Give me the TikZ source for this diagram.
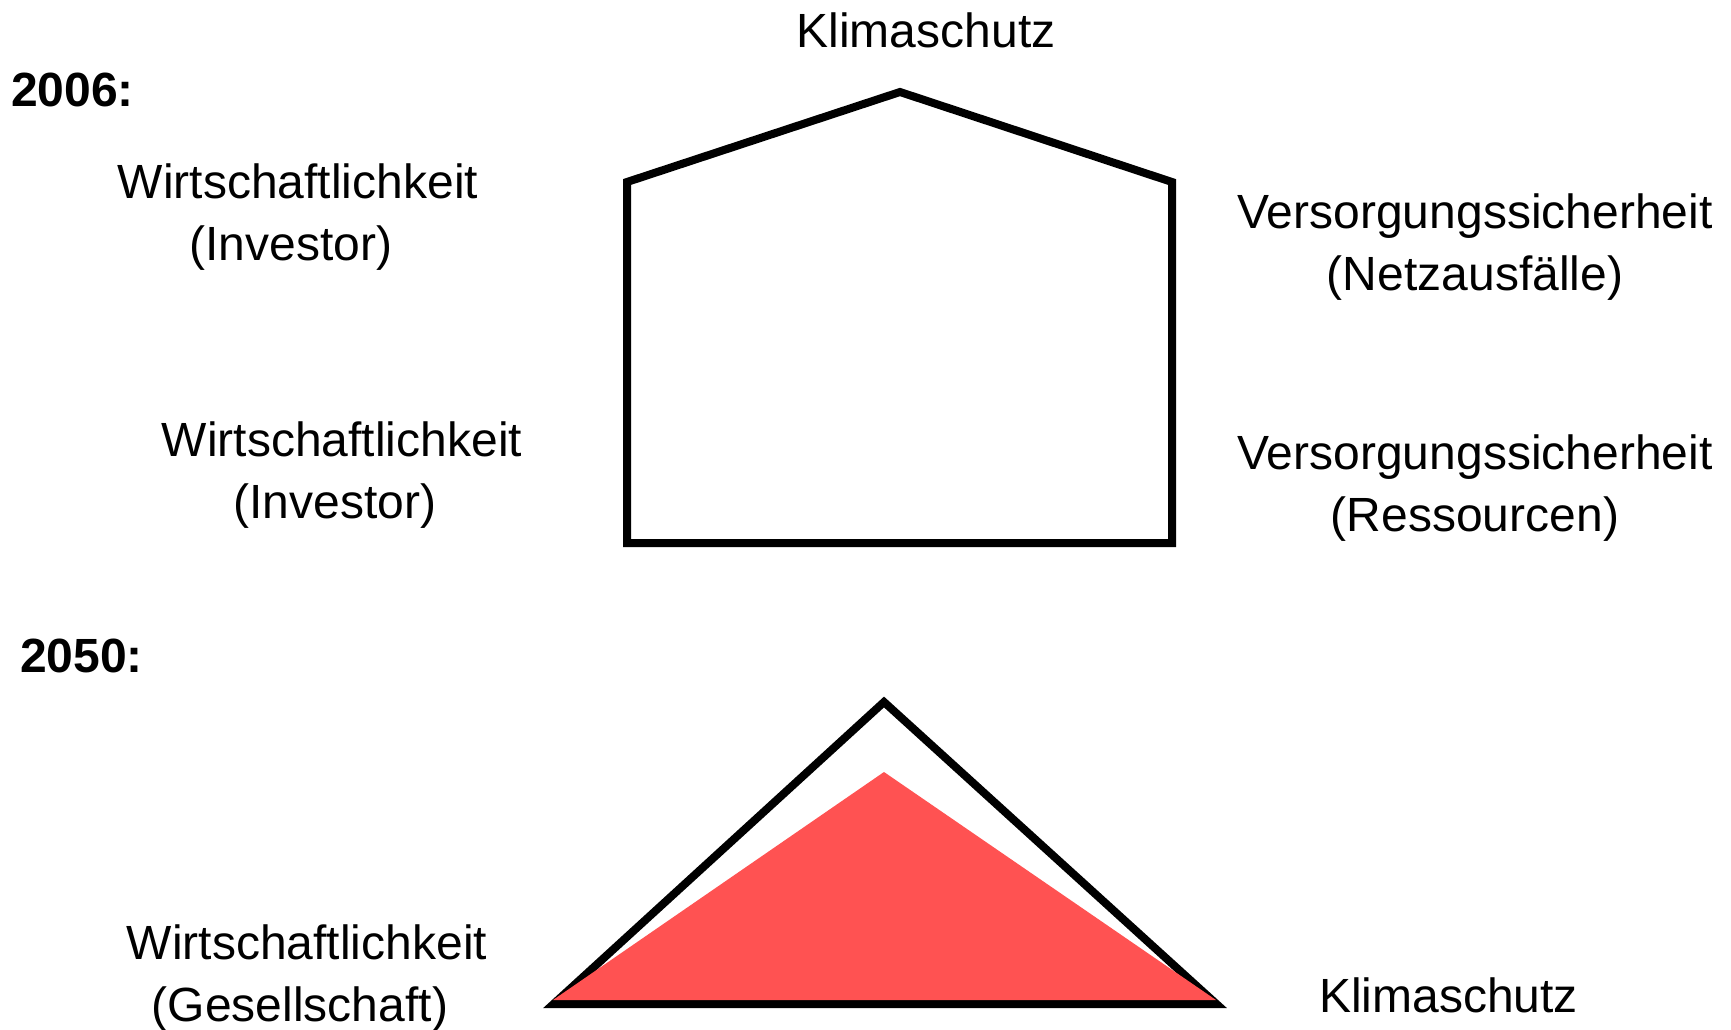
\documentclass[tikz,border=0pt]{standalone}
\usepackage{fontspec}
\setmainfont{Liberation Sans}
\definecolor{redfill}{RGB}{255,82,82}
\begin{document}
\begin{tikzpicture}[x=1pt,y=-1pt,
  lbl/.style={inner sep=0pt, align=center, font=\fontsize{48}{62}\selectfont},
  yearlbl/.style={inner sep=0pt, anchor=base west, font=\fontsize{48}{62}\selectfont\bfseries},
  outline/.style={draw=black, line width=8pt, line join=miter, miter limit=20}]
\useasboundingbox[fill=white] (0,0) rectangle (1731,1030);
% 2006 house
\coordinate (hbl) at (627,543);
\coordinate (hbr) at (1172,543);
\coordinate (hsr) at (1172,182);
\coordinate (hap) at (900,92);
\coordinate (hsl) at (627,182);
\draw[outline] (hbl) -- (hbr) -- (hsr) -- (hap) -- (hsl) -- cycle;
% 2050 triangle
\coordinate (tl) at (553.5,1004);
\coordinate (tr) at (1216.5,1004);
\coordinate (ta) at (884,702);
\draw[outline] (tl) -- (tr) -- (ta) -- cycle;
\coordinate (rl) at (553,1000);
\coordinate (rr) at (1216,1000);
\coordinate (ra) at (884,772);
\fill[redfill] (rl) -- (rr) -- (ra) -- cycle;
% labels
\node[yearlbl] (y2006) at (11,107) {2006:};
\node[yearlbl] (y2050) at (20,672) {2050:};
\node[lbl, anchor=base] (klima1) at (926,47.5) {Klimaschutz};
\node[lbl] (wi1) at (298,217) {Wirtschaftlichkeit\\(Investor)\hspace*{14pt}};
\node[lbl] (wi2) at (342,475) {Wirtschaftlichkeit\\(Investor)\hspace*{14pt}};
\node[lbl] (vn) at (1475,247) {Versorgungssicherheit\\(Netzausfälle)};
\node[lbl] (vr) at (1475,488) {Versorgungssicherheit\\(Ressourcen)};
\node[lbl] (wg) at (307,978) {Wirtschaftlichkeit\\(Gesellschaft)\hspace*{14pt}};
\node[lbl, anchor=base] (klima2) at (1448.5,1012) {Klimaschutz};
\end{tikzpicture}
\end{document}
